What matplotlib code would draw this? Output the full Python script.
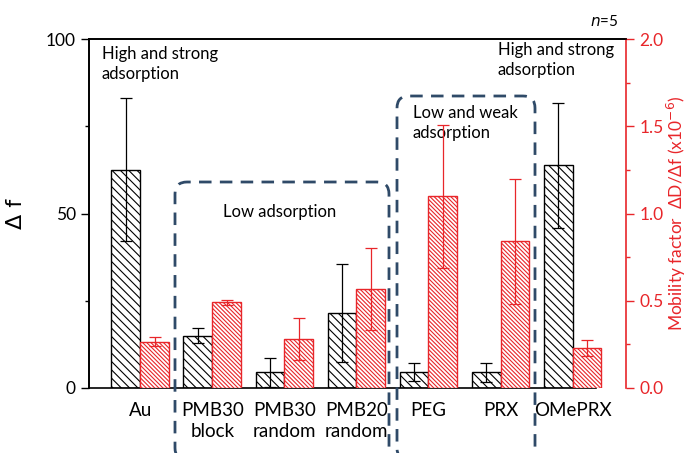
import numpy as np
import matplotlib
matplotlib.use("Agg")
import matplotlib.pyplot as plt
from matplotlib.patches import FancyBboxPatch
from matplotlib.transforms import IdentityTransform

plt.rcParams['font.family'] = ['Lato', 'DejaVu Sans']
plt.rcParams['hatch.linewidth'] = 0.8

categories = ["Au", "PMB30\nblock", "PMB30\nrandom", "PMB20\nrandom", "PEG", "PRX", "OMePRX"]
delta_f = [62.5, 15.0, 4.5, 21.4, 4.5, 4.5, 63.8]
delta_f_err = [20.5, 2.1, 4.1, 14.0, 2.6, 2.7, 18.0]
mobility = [0.265, 0.49, 0.28, 0.567, 1.10, 0.84, 0.229]
mobility_err = [0.025, 0.015, 0.12, 0.235, 0.41, 0.36, 0.047]

red = "#e8262a"
box_col = "#2f4a68"

fig = plt.figure(figsize=(6.92, 4.53), dpi=100)
ax = fig.add_axes([89/692, 1-388/453, (626-89)/692, (388-39)/453])
ax2 = ax.twinx()

x = np.arange(len(categories))
w = 0.40
ax.bar(x - w/2, delta_f, w, color="white", edgecolor="black", linewidth=1,
       hatch="\\\\\\\\", yerr=delta_f_err,
       error_kw=dict(ecolor="black", elinewidth=0.9, capsize=4, capthick=0.9))
ax2.bar(x + w/2, mobility, w, color="white", edgecolor=red, linewidth=1,
        hatch="\\\\\\\\\\\\\\\\", yerr=mobility_err,
        error_kw=dict(ecolor=red, elinewidth=0.9, capsize=4, capthick=0.9))

ax.set_xlim(-0.71, 6.74)
ax.set_ylim(0, 100)
ax2.set_ylim(0, 2.0)
ax.set_yticks([0, 50, 100])
ax.set_yticks([25, 75], minor=True)
ax2.set_yticks([0.0, 0.5, 1.0, 1.5, 2.0])
ax2.set_yticks([0.25, 0.75, 1.25, 1.75], minor=True)
ax2.set_yticklabels(["0.0", "0.5", "1.0", "1.5", "2.0"])
ax.set_xticks(x)
ax.set_xticklabels(categories, fontsize=13.5, linespacing=1.3)
ax.tick_params(axis="x", length=0, pad=10)
ax.tick_params(axis="y", which="major", direction="out", length=6, width=1, labelsize=12.5)
ax.tick_params(axis="y", which="minor", direction="out", length=3, width=1)
ax2.tick_params(axis="y", which="major", direction="out", length=6, width=1,
                labelsize=12.5, colors=red)
ax2.tick_params(axis="y", which="minor", direction="out", length=3, width=1, colors=red)

for a in (ax, ax2):
    for s in a.spines.values():
        s.set_linewidth(1.2)
ax2.spines["right"].set_color(red)
ax.spines["bottom"].set_bounds(-0.71, 6.33)
ax2.spines["bottom"].set_visible(False)
ax.spines["right"].set_visible(False)

ax.set_ylabel("\u0394 f", fontsize=16, labelpad=14, family=['DejaVu Sans'])
ax2.set_ylabel("Mobility factor  \u0394D/\u0394f (x10$^{-6}$)", fontsize=12.5, color=red, labelpad=1)

fig.text(590/692, 1-22/453, "$n$=5", fontsize=11, va="center")

ax.text(-0.53, 98, "High and strong\nadsorption", fontsize=12, va="top", linespacing=1.3)
ax.text(1.94, 50.5, "Low adsorption", fontsize=12, ha="center", va="center")
ax.text(3.78, 81, "Low and weak\nadsorption", fontsize=12, va="top", linespacing=1.3)
ax.text(4.96, 99, "High and strong\nadsorption", fontsize=12, va="top", linespacing=1.3)

H = 453
for (x0, x1, top) in [(175, 389, 182), (397, 535, 96)]:
    p = FancyBboxPatch((x0, H - 460), x1 - x0, 460 - top,
                       boxstyle="round,pad=0,rounding_size=12",
                       transform=IdentityTransform(), fill=False,
                       edgecolor=box_col, linewidth=2, linestyle=(0, (4.5, 3)),
                       clip_on=False)
    fig.add_artist(p)

fig.savefig("out.png", dpi=100)
